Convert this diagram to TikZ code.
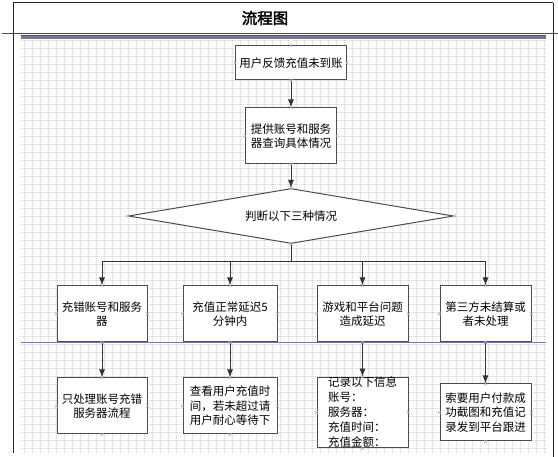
\documentclass[tikz,border=0pt]{standalone}
\usepackage{fontspec}
\setmainfont{Noto Sans CJK SC}[AutoFakeBold=2.5]
\usepackage{tikz}
\usetikzlibrary{shapes.geometric,arrows.meta}
\usepackage{xcolor}
\definecolor{lanecol}{RGB}{120,110,210}
\definecolor{barcol}{RGB}{120,120,150}

\begin{document}
\begin{tikzpicture}[x=1pt,y=-1pt,
  box/.style={draw=black!70,line width=1pt,fill=white,inner sep=0pt,align=center,
    font=\fontsize{11.5}{14.5}\selectfont},
  flow/.style={-{Latex[length=8pt,width=6pt]},black!80,line width=1pt},
  gridline/.style={gray!35,line width=0.3pt,dash pattern=on 1pt off 1pt}]
\useasboundingbox (0,0) rectangle (558,457);
\draw[gridline] (21,40) grid[step=8pt] (546,453);
\draw[black!85,line width=1pt] (13,3) -- (553,3);
\draw[black!85,line width=1pt] (13,3) -- (13,453);
\draw[black!85,line width=1pt] (553,3) -- (553,457);
\draw[black!70,line width=1pt] (2,34) -- (558,34);
\fill[barcol] (21,35) rectangle (546,39);
\draw[barcol!70!black,line width=0.6pt] (21,35.2) -- (546,35.2);
\node[font=\fontsize{15.5}{15.5}\selectfont\bfseries] (title) at (265,18) {流程图};
\draw[lanecol,line width=0.6pt] (21,342) -- (546,342);

\node[box,minimum width=111,minimum height=34] (report) at (291,63) {用户反馈充值未到账};
\node[box,minimum width=91,minimum height=56] (query) at (291,136) {提供账号和服务\\器查询具体情况};
\node[draw=black!70,line width=1pt,fill=white,shape=diamond,aspect=6,inner sep=0pt,
  minimum width=325,minimum height=55,font=\fontsize{11.5}{14.5}\selectfont] (judge) at (291,216) {判断以下三种情况};

\node[box,minimum width=90,minimum height=56] (wrong) at (102,314) {充错账号和服务\\器};
\node[box,minimum width=94,minimum height=56] (delay) at (230,314) {充值正常延迟5\\分钟内};
\node[box,minimum width=91,minimum height=56] (platform) at (362.5,314) {游戏和平台问题\\造成延迟};
\node[box,minimum width=91,minimum height=56] (third) at (485.5,314) {第三方未结算或\\者未处理};

\node[box,minimum width=90,minimum height=56] (onlywrong) at (102,406) {只处理账号充错\\服务器流程};
\node[box,minimum width=94,minimum height=56] (wait) at (230,406) {查看用户充值时\\间，若未超过请\\用户耐心等待下};
\node[box,minimum width=91,minimum height=69,align=left,
  font=\fontsize{11.5}{15}\selectfont] (record) at (362.5,412.5) {记录以下信息\\账号：\\服务器：\\充值时间：\\充值金额：};
\node[box,minimum width=91,minimum height=57] (proof) at (485.5,412.5) {索要用户付款成\\功截图和充值记\\录发到平台跟进};

\coordinate (bus) at (291,262);
\draw[flow] (report) -- (query);
\draw[flow] (query) -- (judge);
\draw[black!80,line width=1pt] (judge.south) -- (bus);
\draw[black!80,line width=1pt] (wrong |- bus) -- (third |- bus);
\foreach \n in {wrong,delay,platform,third}
  \draw[flow] (\n |- bus) -- (\n);
\draw[flow] (wrong) -- (onlywrong);
\draw[flow] (delay) -- (wait);
\draw[flow] (platform) -- (record);
\draw[flow] (third) -- (proof);

\foreach \n in {report,query,judge,wrong,delay,platform,third,onlywrong,wait,record,proof}
  \foreach \a in {north,south,east,west}
    \draw[lanecol!60,line width=0.5pt] ([shift={(-1.5,-1.5)}]\n.\a) -- ++(3,3)
      ([shift={(-1.5,1.5)}]\n.\a) -- ++(3,-3);
\end{tikzpicture}
\end{document}
